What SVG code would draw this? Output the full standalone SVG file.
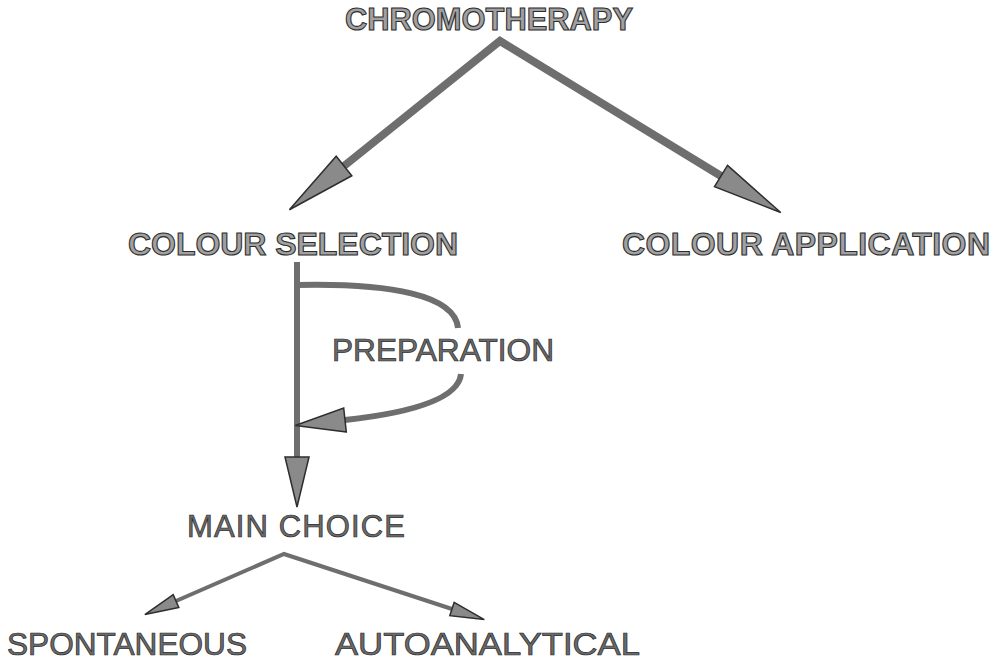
<svg xmlns="http://www.w3.org/2000/svg" width="1000" height="667" viewBox="0 0 1000 667">
<style>
.bg{fill:#fff}
.head{font-family:"Liberation Sans",Arial,sans-serif;font-weight:bold;font-size:32px;fill:#a0a0a0;stroke:#2e2e2e;stroke-width:1.1}
.lab{font-family:"Liberation Sans",Arial,sans-serif;font-size:31px;fill:#6a6a6a;stroke:#2a2a2a;stroke-width:0.7}
.e{fill:none;stroke:#6e6e6e;stroke-linejoin:miter;stroke-miterlimit:10}
.big{stroke-width:8}
.mid{stroke-width:6}
.sm{stroke-width:4}
.ah{fill:#8a8a8a;stroke:#2e2e2e;stroke-width:1.5;stroke-linejoin:miter}
</style>
<defs>
<marker id="hb" markerUnits="userSpaceOnUse" viewBox="-2 -2 74 29" refX="0" refY="12.5" markerWidth="74" markerHeight="29" orient="auto-start-reverse" overflow="visible">
<path class="ah" d="M0,0 L70,12.5 L0,25 z"/>
</marker>
<marker id="hm" markerUnits="userSpaceOnUse" viewBox="-2 -2 54 28" refX="0" refY="12" markerWidth="54" markerHeight="28" orient="auto" overflow="visible">
<path class="ah" d="M0,0 L50,12 L0,24 z"/>
</marker>
<marker id="hs" markerUnits="userSpaceOnUse" viewBox="-2 -2 38 18" refX="0" refY="7" markerWidth="38" markerHeight="18" orient="auto-start-reverse" overflow="visible">
<path class="ah" d="M0,0 L34,7 L0,14 z"/>
</marker>
</defs>
<rect class="bg" x="0" y="0" width="1000" height="667"/>
<g id="connectors">
<path class="e big" d="M344,166 L500,41 L721,176" marker-start="url(#hb)" marker-end="url(#hb)"/>
<path class="e mid" d="M297,262 L297,457" marker-end="url(#hm)"/>
<path class="e mid" d="M297,285 C390,283 455,295 458,328"/>
<path class="e mid" d="M461,374 C458,402 400,414 345,420" marker-end="url(#hm)"/>
<path class="e sm" d="M176,601 L284,554 L452,609" marker-start="url(#hs)" marker-end="url(#hs)"/>
</g>
<g id="chromotherapy"><text class="head" x="345" y="30" textLength="288" lengthAdjust="spacingAndGlyphs">CHROMOTHERAPY</text></g>
<g id="colour-selection"><text class="head" x="128" y="255" textLength="330" lengthAdjust="spacing">COLOUR SELECTION</text></g>
<g id="colour-application"><text class="head" x="622" y="255" textLength="368" lengthAdjust="spacing">COLOUR APPLICATION</text></g>
<g id="preparation"><text class="lab" x="332" y="361" textLength="222" lengthAdjust="spacingAndGlyphs">PREPARATION</text></g>
<g id="main-choice"><text class="lab" x="187" y="537" textLength="218" lengthAdjust="spacing">MAIN CHOICE</text></g>
<g id="spontaneous"><text class="lab" x="7" y="655" textLength="240" lengthAdjust="spacingAndGlyphs">SPONTANEOUS</text></g>
<g id="autoanalytical"><text class="lab" x="335" y="655" textLength="305" lengthAdjust="spacingAndGlyphs">AUTOANALYTICAL</text></g>
</svg>
